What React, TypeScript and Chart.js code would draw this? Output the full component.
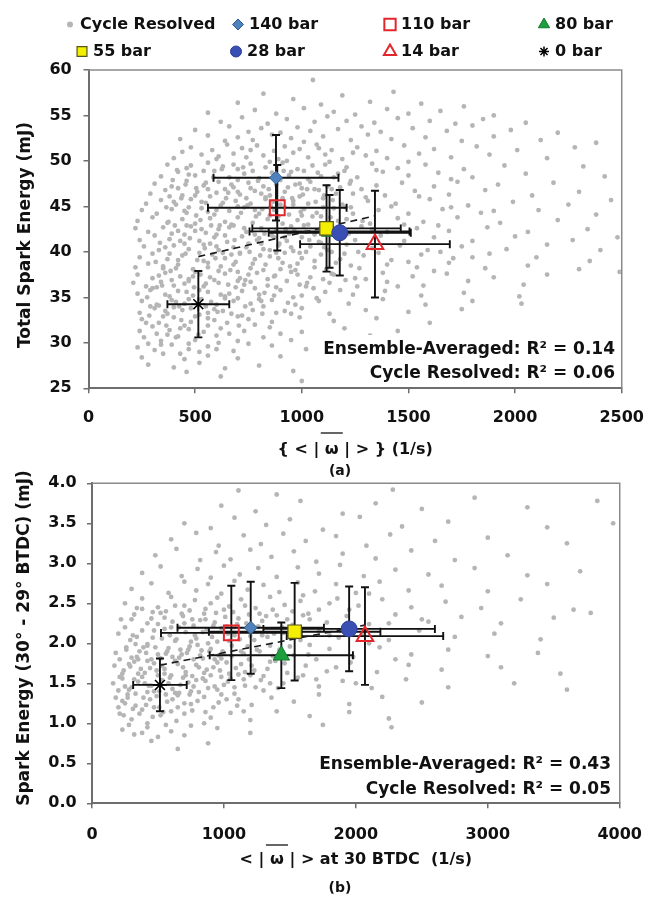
import React, { useEffect, useRef } from 'react';
import { Chart, registerables } from 'chart.js';
import { drawPoint } from 'chart.js/helpers';

Chart.register(...registerables);

const FONT = '"DejaVu Sans", "Liberation Sans", Arial, sans-serif';
const AXIS = '#6e6e6e';

// ---------- series names ----------
const CYCLE_LABEL = 'Cycle Resolved';
const SERIES = ['140 bar', '110 bar', '80 bar', '55 bar', '28 bar', '14 bar', '0 bar'];

// ---------- panel (a) ----------
const aXTicks = [0, 500, 1000, 1500, 2000, 2500];
const aYTicks = [25, 30, 35, 40, 45, 50, 55, 60];
const aX = [879, 885, 1130, 1116, 1178, 1343, 515];
const aY = [48.15, 44.85, 42.25, 42.58, 42.1, 40.85, 34.25];
const aXErr = [293, 325, 375, 348, 333, 351, 145];
const aYErr = [4.7, 4.7, 4.0, 4.75, 4.7, 5.87, 3.65];
const aNotes = ['Ensemble-Averaged: R\u00b2 = 0.14', 'Cycle Resolved: R\u00b2 = 0.06'];

const cycleA: [number, number][] = [
  [1052, 58.9], [820, 57.4], [1190, 57.2], [1430, 57.6],
  [700, 56.4], [960, 56.8], [1090, 56.2], [1320, 56.5], [1560, 56.3], [1760, 56.0],
  [560, 55.3], [780, 55.6], [880, 55.2], [1010, 55.8], [1150, 55.4], [1250, 55.1], [1400, 55.7], [1500, 55.2], [1650, 55.5], [1900, 55.0],
  [620, 54.3], [720, 54.8], [840, 54.1], [930, 54.6], [1060, 54.3], [1120, 54.9], [1210, 54.4], [1340, 54.2], [1450, 54.7], [1600, 54.4], [1720, 54.1], [1850, 54.6], [2050, 54.2],
  [500, 53.4], [660, 53.8], [750, 53.2], [810, 53.6], [900, 53.1], [980, 53.7], [1040, 53.3], [1170, 53.5], [1280, 53.8], [1370, 53.2], [1520, 53.6], [1680, 53.3], [1800, 53.9], [1980, 53.4], [2200, 53.1],
  [430, 52.4], [560, 52.8], [640, 52.2], [700, 52.6], [770, 52.3], [860, 52.9], [950, 52.5], [1010, 52.1], [1100, 52.7], [1230, 52.3], [1310, 52.9], [1420, 52.4], [1580, 52.6], [1750, 52.2], [1900, 52.7], [2120, 52.3], [2380, 52.0],
  [480, 51.5], [580, 51.2], [650, 51.8], [720, 51.4], [790, 51.7], [870, 51.1], [920, 51.6], [990, 51.3], [1070, 51.8], [1140, 51.2], [1260, 51.5], [1350, 51.1], [1480, 51.7], [1620, 51.3], [1820, 51.6], [2010, 51.2], [2280, 51.5],
  [400, 50.3], [530, 50.7], [600, 50.2], [680, 50.8], [740, 50.4], [820, 50.6], [890, 50.2], [960, 50.9], [1030, 50.4], [1110, 50.7], [1190, 50.2], [1300, 50.6], [1400, 50.3], [1550, 50.8], [1700, 50.4], [1880, 50.7], [2150, 50.3],
  [370, 49.6], [460, 49.2], [560, 49.8], [630, 49.4], [700, 49.1], [760, 49.7], [830, 49.3], [910, 49.8], [980, 49.1], [1050, 49.5], [1130, 49.9], [1210, 49.3], [1330, 49.7], [1450, 49.2], [1580, 49.6], [1760, 49.1], [1950, 49.5], [2320, 49.4],
  [340, 48.3], [420, 48.8], [500, 48.4], [590, 48.9], [660, 48.2], [730, 48.6], [800, 48.1], [860, 48.7], [940, 48.4], [1010, 48.9], [1090, 48.3], [1170, 48.6], [1260, 48.2], [1380, 48.8], [1500, 48.4], [1640, 48.7], [1800, 48.2], [2050, 48.6], [2420, 48.3],
  [310, 47.5], [390, 47.2], [460, 47.8], [540, 47.3], [610, 47.7], [680, 47.1], [750, 47.6], [820, 47.2], [900, 47.9], [970, 47.4], [1040, 47.7], [1120, 47.2], [1230, 47.8], [1350, 47.3], [1470, 47.6], [1620, 47.2], [1730, 47.7], [1920, 47.4], [2180, 47.6],
  [290, 46.4], [360, 46.8], [440, 46.2], [510, 46.6], [570, 46.1], [640, 46.9], [710, 46.3], [780, 46.7], [850, 46.2], [920, 46.6], [990, 46.1], [1080, 46.8], [1160, 46.4], [1280, 46.9], [1390, 46.2], [1530, 46.7], [1690, 46.3], [1860, 46.8], [2080, 46.2], [2300, 46.6],
  [270, 45.3], [340, 45.7], [410, 45.2], [480, 45.8], [550, 45.4], [620, 45.1], [690, 45.6], [760, 45.3], [830, 45.8], [900, 45.2], [960, 45.6], [1030, 45.3], [1100, 45.9], [1190, 45.2], [1310, 45.6], [1440, 45.3], [1600, 45.8], [1780, 45.1], [1990, 45.5], [2250, 45.2], [2450, 45.7],
  [250, 44.6], [320, 44.2], [390, 44.7], [460, 44.3], [530, 44.8], [590, 44.1], [660, 44.5], [730, 44.9], [800, 44.2], [870, 44.6], [940, 44.1], [1010, 44.7], [1070, 44.3], [1150, 44.8], [1240, 44.2], [1360, 44.6], [1500, 44.2], [1660, 44.7], [1840, 44.3], [2110, 44.6], [2380, 44.1],
  [230, 43.4], [300, 43.8], [370, 43.2], [440, 43.6], [500, 43.1], [570, 43.7], [640, 43.3], [700, 43.8], [770, 43.2], [840, 43.6], [910, 43.1], [980, 43.5], [1050, 43.9], [1130, 43.2], [1210, 43.6], [1320, 43.1], [1450, 43.7], [1570, 43.3], [1730, 43.8], [1930, 43.2], [2200, 43.5],
  [220, 42.6], [280, 42.2], [350, 42.7], [420, 42.3], [480, 42.8], [550, 42.1], [610, 42.5], [680, 42.9], [740, 42.2], [810, 42.6], [880, 42.3], [950, 42.8], [1020, 42.2], [1090, 42.7], [1180, 42.4], [1280, 42.8], [1400, 42.2], [1540, 42.6], [1690, 42.3], [1870, 42.7], [2060, 42.2], [2340, 42.5],
  [240, 41.3], [310, 41.8], [380, 41.4], [450, 41.9], [520, 41.2], [590, 41.6], [650, 41.1], [720, 41.7], [790, 41.3], [860, 41.8], [930, 41.2], [1000, 41.6], [1080, 41.1], [1160, 41.7], [1250, 41.3], [1370, 41.8], [1480, 41.2], [1620, 41.6], [1800, 41.2], [2000, 41.7], [2270, 41.3], [2480, 41.6],
  [260, 40.6], [330, 40.2], [400, 40.7], [470, 40.3], [540, 40.8], [610, 40.2], [680, 40.5], [750, 40.9], [820, 40.3], [890, 40.7], [960, 40.1], [1040, 40.6], [1120, 40.2], [1210, 40.8], [1330, 40.4], [1460, 40.7], [1590, 40.2], [1750, 40.6], [1960, 40.3], [2150, 40.8], [2400, 40.2],
  [240, 39.4], [300, 39.8], [370, 39.2], [440, 39.6], [510, 39.1], [580, 39.7], [640, 39.3], [710, 39.8], [780, 39.2], [850, 39.5], [920, 39.9], [1000, 39.3], [1090, 39.7], [1180, 39.2], [1290, 39.6], [1420, 39.1], [1560, 39.7], [1710, 39.3], [1880, 39.8], [2100, 39.4], [2350, 39.0],
  [220, 38.3], [280, 38.7], [350, 38.2], [420, 38.6], [490, 38.1], [560, 38.8], [620, 38.4], [690, 38.9], [760, 38.2], [830, 38.6], [900, 38.1], [980, 38.7], [1060, 38.3], [1160, 38.8], [1270, 38.2], [1400, 38.6], [1540, 38.3], [1690, 38.8], [1860, 38.2], [2060, 38.5], [2300, 38.1], [2490, 37.8],
  [230, 37.5], [300, 37.1], [360, 37.7], [430, 37.3], [500, 37.8], [570, 37.2], [640, 37.6], [710, 37.1], [790, 37.7], [870, 37.3], [950, 37.8], [1040, 37.2], [1140, 37.6], [1250, 37.1], [1380, 37.7], [1520, 37.3], [1680, 37.6], [1900, 37.2], [2150, 37.5],
  [210, 36.6], [270, 36.2], [340, 36.7], [400, 36.3], [470, 36.8], [540, 36.2], [610, 36.6], [690, 36.1], [760, 36.7], [840, 36.3], [930, 36.8], [1020, 36.2], [1130, 36.6], [1260, 36.2], [1400, 36.7], [1570, 36.3], [1780, 36.8], [2040, 36.4],
  [230, 35.4], [290, 35.8], [360, 35.3], [420, 35.7], [490, 35.2], [560, 35.6], [640, 35.1], [720, 35.7], [800, 35.3], [900, 35.8], [1000, 35.2], [1110, 35.6], [1240, 35.3], [1390, 35.7], [1560, 35.2], [1760, 35.5], [2020, 35.1],
  [250, 34.6], [320, 34.2], [390, 34.7], [450, 34.3], [530, 34.8], [600, 34.2], [680, 34.6], [760, 34.3], [860, 34.7], [970, 34.2], [1080, 34.6], [1220, 34.3], [1380, 34.8], [1580, 34.2], [1800, 34.6], [2030, 34.3],
  [240, 33.3], [310, 33.8], [370, 33.2], [440, 33.6], [520, 33.1], [590, 33.7], [670, 33.2], [770, 33.6], [880, 33.3], [1000, 33.8], [1130, 33.2], [1300, 33.6], [1500, 33.4], [1750, 33.7],
  [250, 32.6], [330, 32.2], [400, 32.8], [480, 32.3], [560, 32.7], [650, 32.2], [750, 32.6], [860, 32.3], [990, 32.8], [1150, 32.4], [1350, 32.7], [1600, 32.2],
  [240, 31.3], [300, 31.8], [380, 31.4], [450, 31.9], [540, 31.2], [620, 31.6], [730, 31.3], [850, 31.7], [1000, 31.2], [1200, 31.6], [1450, 31.3],
  [260, 30.6], [340, 30.2], [420, 30.7], [500, 30.3], [600, 30.8], [700, 30.2], [820, 30.6], [950, 30.3], [1150, 30.5], [1320, 30.8],
  [230, 29.5], [310, 29.2], [390, 29.8], [470, 29.3], [560, 29.6], [680, 29.1], [860, 29.7], [1020, 29.3],
  [250, 28.4], [350, 28.8], [450, 28.2], [560, 28.6], [700, 28.3], [900, 28.5],
  [280, 27.6], [400, 27.3], [520, 27.8], [640, 27.2], [800, 27.5],
  [460, 26.8], [620, 26.3], [960, 26.9], [1000, 25.8],
  [415, 49.0], [505, 47.0], [585, 48.2], [655, 46.5], [725, 49.3], [795, 47.8], [865, 45.5], [935, 47.1], [1005, 46.3], [1075, 48.7], [1145, 45.7], [1225, 47.5],
  [365, 44.9], [435, 45.9], [505, 44.0], [575, 42.9], [645, 45.9], [715, 44.3], [785, 43.9], [855, 45.0], [925, 42.5], [995, 44.4], [1065, 45.5], [1135, 43.8], [1205, 44.9], [1285, 43.4],
  [335, 41.0], [405, 42.9], [475, 41.5], [545, 40.4], [615, 42.9], [685, 41.3], [755, 40.0], [825, 42.0], [895, 40.9], [965, 42.4], [1035, 41.3], [1105, 40.5], [1185, 41.9], [1265, 40.0],
  [315, 38.9], [385, 37.9], [455, 39.8], [525, 37.5], [595, 39.3], [665, 38.0], [735, 36.9], [805, 39.6], [875, 37.4], [945, 38.4], [1025, 36.6], [1115, 38.1], [1205, 36.9],
  [275, 35.0], [345, 36.3], [425, 34.0], [495, 36.1], [575, 34.5], [655, 36.4], [735, 34.0], [825, 35.5], [935, 34.4], [1055, 36.0],
  [285, 33.0], [365, 31.9], [435, 32.5], [515, 30.9], [605, 33.4], [705, 31.9], [815, 33.2],
  [340, 29.8], [430, 28.8], [520, 29.0], [610, 30.0],
  [395, 47.9], [470, 48.5], [550, 47.6], [625, 49.1], [700, 47.9], [770, 48.9], [845, 46.9], [915, 48.9], [990, 47.5], [1060, 46.9], [1200, 48.9], [1110, 49.6],
  [380, 46.1], [455, 47.4], [530, 45.5], [600, 46.5], [670, 47.4], [740, 45.9], [810, 46.4], [880, 47.4], [955, 45.9], [1025, 46.9], [1105, 46.2], [1180, 47.1],
  [375, 43.3], [450, 44.5], [525, 43.5], [600, 44.6], [670, 43.0], [745, 45.1], [815, 44.7], [890, 43.9], [960, 45.2], [1030, 43.0], [1100, 44.9], [1170, 43.4],
  [360, 40.5], [430, 41.2], [500, 42.3], [570, 40.9], [640, 41.8], [710, 39.9], [780, 41.9], [850, 40.2], [920, 41.6], [990, 39.9], [1060, 41.9], [1140, 40.0],
  [350, 38.4], [420, 39.1], [490, 37.3], [560, 38.3], [630, 39.9], [700, 37.8], [770, 38.7], [840, 37.0], [910, 38.8], [980, 37.5], [1060, 39.0], [1150, 37.5],
  [300, 36.0], [380, 35.1], [450, 36.5], [520, 35.8], [590, 36.9], [660, 35.4], [730, 36.4], [800, 34.8], [880, 36.1], [960, 35.0], [1070, 34.9],
  [290, 34.0], [360, 33.5], [410, 34.5], [480, 33.8], [550, 34.0], [630, 33.5], [700, 34.9], [820, 34.0], [920, 33.5],
  [320, 31.0], [410, 30.6], [470, 31.5], [560, 31.9], [660, 31.0], [780, 32.0], [900, 31.0],
  [280, 29.9], [370, 30.9], [470, 29.9], [600, 29.3], [750, 29.9],
  [440, 51.0], [610, 50.5], [760, 51.2], [930, 50.0], [1080, 51.4], [1240, 50.9],
  [480, 49.5], [540, 48.9], [680, 49.6], [850, 49.9], [950, 48.8], [1030, 48.0], [1150, 48.2],
  [420, 47.0], [500, 46.2], [560, 46.9], [700, 46.6], [760, 47.0], [830, 46.0], [910, 45.9], [1000, 47.0], [1140, 46.9], [1240, 46.4],
  [400, 45.5], [470, 44.9], [560, 44.4], [630, 45.4], [700, 45.0], [780, 44.6], [850, 44.0], [920, 44.9], [1000, 44.0], [1090, 43.9], [1230, 44.9],
  [390, 42.0], [460, 42.9], [530, 42.5], [600, 41.9], [660, 42.7], [730, 42.6], [800, 41.5], [870, 41.6], [940, 42.0], [1010, 42.9], [1070, 42.4], [1220, 42.0],
  [380, 39.8], [450, 40.9], [520, 39.9], [600, 40.6], [670, 39.7], [740, 40.5], [810, 40.9], [880, 39.9], [950, 40.5], [1020, 40.0], [1090, 41.0], [1200, 39.8],
  [330, 37.4], [410, 38.2], [470, 37.0], [540, 39.0], [610, 37.9], [680, 38.6], [750, 37.5], [820, 38.0], [890, 39.3], [970, 38.0], [1100, 37.0], [1230, 38.5],
  [320, 36.1], [390, 36.9], [460, 35.6], [550, 36.5], [620, 35.3], [700, 36.8], [780, 36.0], [870, 35.2], [990, 36.4], [1180, 35.8],
  [330, 34.1], [400, 33.9], [470, 34.8], [560, 33.3], [640, 34.9], [720, 33.0], [810, 34.6], [950, 33.2],
  [270, 32.2], [350, 32.9], [430, 31.6], [500, 32.9], [590, 32.5], [700, 32.9],
  [1300, 46.0], [1420, 45.0], [1550, 46.1], [1700, 44.9], [1330, 42.5], [1480, 43.0], [1640, 42.9], [1360, 39.9], [1500, 38.9], [1650, 40.0],
  [1300, 37.0], [1450, 36.2], [1620, 37.9], [1800, 39.4], [1900, 44.5], [1350, 49.0], [1500, 49.9], [1700, 48.0],
];

// ---------- panel (b) ----------
const bXTicks = [0, 1000, 2000, 3000, 4000];
const bYTicks = [0, 0.5, 1, 1.5, 2, 2.5, 3, 3.5, 4];
const bX = [1203, 1056, 1435, 1536, 1949, 2069, 515];
const bY = [2.195, 2.13, 1.85, 2.145, 2.18, 2.09, 1.48];
const bXErr = [555, 533, 543, 650, 650, 593, 203];
const bYErr = [0.575, 0.59, 0.41, 0.61, 0.53, 0.61, 0.33];
const bNotes = ['Ensemble-Averaged: R\u00b2 = 0.43', 'Cycle Resolved: R\u00b2 = 0.05'];

const cycleB: [number, number][] = [
  [1110, 3.91], [1400, 3.86], [2280, 3.92], [2900, 3.82], [3830, 3.78],
  [980, 3.72], [1240, 3.65], [1580, 3.78], [1900, 3.62], [2150, 3.75], [2500, 3.68], [3300, 3.7],
  [700, 3.5], [900, 3.44], [1080, 3.57], [1320, 3.48], [1500, 3.55], [1750, 3.42], [2030, 3.58], [2350, 3.46], [2700, 3.52], [3450, 3.45], [3950, 3.5],
  [600, 3.3], [790, 3.38], [960, 3.22], [1150, 3.35], [1280, 3.24], [1450, 3.37], [1620, 3.28], [1850, 3.34], [2080, 3.22], [2260, 3.36], [2600, 3.28], [3000, 3.32], [3600, 3.25],
  [480, 3.1], [640, 3.18], [820, 3.04], [940, 3.14], [1050, 3.05], [1200, 3.17], [1360, 3.08], [1530, 3.15], [1700, 3.02], [1900, 3.12], [2150, 3.06], [2420, 3.16], [2750, 3.04], [3150, 3.1],
  [380, 2.88], [520, 2.96], [680, 2.84], [800, 2.93], [900, 2.82], [1000, 2.97], [1120, 2.86], [1260, 2.94], [1400, 2.83], [1560, 2.95], [1720, 2.87], [1880, 2.98], [2060, 2.84], [2300, 2.92], [2550, 2.86], [2900, 2.94], [3300, 2.85], [3700, 2.9],
  [300, 2.68], [450, 2.75], [580, 2.63], [700, 2.77], [790, 2.66], [880, 2.74], [980, 2.62], [1080, 2.78], [1180, 2.67], [1300, 2.73], [1420, 2.64], [1560, 2.76], [1690, 2.65], [1850, 2.74], [2000, 2.63], [2180, 2.77], [2400, 2.66], [2650, 2.72], [3000, 2.65], [3450, 2.74],
  [250, 2.5], [380, 2.56], [500, 2.45], [600, 2.58], [700, 2.47], [780, 2.54], [860, 2.43], [950, 2.57], [1040, 2.46], [1130, 2.55], [1240, 2.44], [1350, 2.58], [1460, 2.48], [1580, 2.53], [1720, 2.42], [1860, 2.56], [2020, 2.47], [2200, 2.55], [2420, 2.45], [2680, 2.52], [2950, 2.44], [3250, 2.55], [3650, 2.42],
  [220, 2.3], [320, 2.36], [420, 2.25], [520, 2.38], [610, 2.27], [690, 2.34], [770, 2.22], [850, 2.37], [930, 2.26], [1010, 2.33], [1100, 2.24], [1190, 2.36], [1290, 2.28], [1400, 2.35], [1520, 2.23], [1640, 2.37], [1780, 2.26], [1930, 2.34], [2100, 2.24], [2300, 2.36], [2550, 2.27], [2800, 2.33], [3100, 2.25], [3500, 2.32], [3780, 2.38],
  [200, 2.12], [290, 2.04], [380, 2.16], [460, 2.07], [550, 2.18], [630, 2.03], [710, 2.14], [790, 2.06], [870, 2.17], [950, 2.02], [1030, 2.12], [1120, 2.05], [1220, 2.16], [1330, 2.08], [1450, 2.13], [1580, 2.04], [1720, 2.15], [1870, 2.07], [2050, 2.12], [2250, 2.04], [2480, 2.16], [2750, 2.08], [3050, 2.12], [3400, 2.05],
  [180, 1.88], [260, 1.95], [340, 1.83], [420, 1.97], [500, 1.86], [580, 1.94], [660, 1.82], [740, 1.96], [820, 1.85], [900, 1.93], [980, 1.81], [1060, 1.97], [1150, 1.87], [1250, 1.92], [1370, 1.84], [1500, 1.96], [1640, 1.86], [1800, 1.93], [1980, 1.83], [2180, 1.95], [2420, 1.86], [2700, 1.92], [3000, 1.84], [3380, 1.88],
  [170, 1.72], [240, 1.66], [320, 1.77], [400, 1.63], [470, 1.75], [550, 1.68], [630, 1.78], [710, 1.64], [790, 1.73], [870, 1.67], [950, 1.76], [1040, 1.62], [1130, 1.74], [1230, 1.66], [1350, 1.77], [1480, 1.63], [1620, 1.72], [1780, 1.65], [1960, 1.76], [2160, 1.64], [2400, 1.73], [2650, 1.67], [3100, 1.7], [3550, 1.62],
  [160, 1.5], [230, 1.56], [300, 1.45], [380, 1.58], [450, 1.47], [530, 1.54], [610, 1.43], [690, 1.57], [770, 1.46], [860, 1.53], [950, 1.42], [1050, 1.56], [1160, 1.47], [1280, 1.54], [1410, 1.44], [1560, 1.57], [1720, 1.46], [1900, 1.53], [2120, 1.44], [2380, 1.55], [2700, 1.45], [3200, 1.5], [3600, 1.42],
  [180, 1.32], [250, 1.25], [330, 1.37], [410, 1.23], [490, 1.34], [570, 1.27], [660, 1.38], [750, 1.24], [850, 1.33], [960, 1.26], [1080, 1.37], [1210, 1.23], [1360, 1.32], [1530, 1.27], [1720, 1.36], [1950, 1.24], [2200, 1.33], [2500, 1.26],
  [210, 1.12], [300, 1.05], [380, 1.17], [460, 1.08], [540, 1.14], [640, 1.03], [760, 1.16], [900, 1.07], [1050, 1.13], [1200, 1.04], [1400, 1.15], [1650, 1.09], [1950, 1.14], [2250, 1.06],
  [230, 0.92], [320, 0.86], [420, 0.95], [500, 0.83], [600, 0.9], [750, 0.97], [950, 0.94], [1200, 0.88], [1750, 0.98], [2270, 0.95],
  [450, 0.78], [650, 0.68], [880, 0.75],
  [340, 2.44], [450, 2.31], [560, 2.4], [660, 2.2], [740, 2.41], [820, 2.29], [900, 2.5], [980, 2.19], [1070, 2.39], [1160, 2.47], [1260, 2.21], [1370, 2.42], [1480, 2.3],
  [250, 2.2], [340, 2.08], [420, 1.99], [500, 2.24], [590, 2.1], [670, 1.92], [750, 2.02], [830, 1.91], [910, 2.08], [990, 1.9], [1080, 2.2], [1180, 1.96], [1290, 2.1], [1420, 1.92], [1550, 2.2],
  [210, 1.8], [290, 1.71], [360, 1.9], [440, 1.69], [520, 1.81], [600, 1.6], [680, 1.86], [760, 1.59], [840, 1.81], [920, 1.7], [1000, 1.87], [1090, 1.69], [1190, 1.8], [1300, 1.59], [1420, 1.85],
  [200, 1.41], [270, 1.36], [350, 1.52], [420, 1.39], [500, 1.6], [580, 1.5], [650, 1.35], [730, 1.51], [810, 1.39], [900, 1.6], [1000, 1.48], [1110, 1.3], [1240, 1.45],
  [240, 1.1], [330, 1.22], [420, 1.0], [510, 1.2], [600, 1.15], [700, 1.25],
  [300, 2.3], [380, 2.43], [470, 2.16], [550, 2.32], [630, 2.47], [700, 2.25], [780, 2.1], [860, 2.3], [940, 2.38], [1020, 2.21], [1110, 2.31], [1200, 2.09], [1320, 2.34], [1440, 2.2], [1600, 2.35],
  [260, 1.92], [330, 1.99], [410, 1.88], [480, 1.95], [560, 1.87], [640, 2.05], [720, 1.88], [800, 1.98], [880, 2.0], [960, 1.85], [1040, 2.03], [1130, 1.9], [1230, 2.04], [1350, 1.97], [1500, 2.07], [1650, 1.98],
  [230, 1.62], [300, 1.82], [370, 1.68], [450, 1.8], [530, 1.72], [610, 1.83], [690, 1.7], [770, 1.8], [850, 1.63], [930, 1.8], [1020, 1.76], [1110, 1.61], [1210, 1.72], [1330, 1.68], [1460, 1.75], [1600, 1.6],
  [210, 1.58], [280, 1.42], [350, 1.62], [430, 1.47], [510, 1.4], [590, 1.57], [670, 1.48], [750, 1.4], [840, 1.56], [930, 1.46], [1030, 1.52], [1150, 1.55], [1300, 1.41], [1450, 1.5],
  [200, 1.2], [270, 1.32], [360, 1.12], [440, 1.3], [520, 1.1], [610, 1.3], [700, 1.12], [800, 1.28], [920, 1.2], [1020, 1.3], [1150, 1.15],
  [280, 0.98], [380, 0.88], [560, 0.98], [700, 0.85], [850, 1.0],
  [310, 2.1], [390, 1.95], [460, 2.39], [530, 2.06], [600, 2.2], [680, 2.37], [760, 2.3], [840, 2.14], [920, 2.22], [1000, 2.42], [1080, 2.1], [1170, 2.25], [1270, 2.37], [1380, 2.12], [1520, 2.4],
  [280, 1.74], [350, 1.8], [420, 1.78], [490, 1.66], [570, 1.9], [650, 1.74], [730, 1.92], [810, 1.7], [890, 1.9], [970, 1.66], [1060, 1.84], [1160, 1.64], [1270, 1.9], [1390, 1.78], [1530, 1.85], [1700, 1.8],
  [250, 1.46], [320, 1.55], [400, 1.5], [470, 1.4], [550, 1.62], [630, 1.38], [710, 1.6], [790, 1.54], [880, 1.44], [980, 1.58], [1080, 1.45], [1200, 1.6], [1350, 1.5],
  [230, 1.28], [310, 1.18], [390, 1.32], [470, 1.2], [560, 1.36], [650, 1.2], [740, 1.36], [860, 1.14], [980, 1.36], [1100, 1.22],
  [1650, 2.3], [1800, 2.1], [1950, 2.42], [2100, 2.0], [2250, 2.25], [1700, 1.55], [1850, 1.7], [2000, 1.5], [1600, 2.6], [1800, 2.5], [2100, 2.62], [2300, 1.8], [2500, 2.3],
];

// ---------- marker styles (per series) ----------
const MARKERS = [
  { style: 'rectRot', r: 6.5, lr: 5.5, fill: '#4f81bd', stroke: '#2e5c94', bw: 1, order: 7 },
  { style: 'rect', r: 10.5, lr: 8, fill: 'rgba(0,0,0,0)', stroke: '#e3262b', bw: 2, order: 6 },
  { style: 'triangle', r: 9.5, lr: 6.5, fill: '#1f9e40', stroke: '#127a2e', bw: 1, order: 9 },
  { style: 'rect', r: 9.5, lr: 7, fill: '#f4ee00', stroke: '#55551e', bw: 1.2, order: 8 },
  { style: 'circle', r: 8, lr: 5.5, fill: '#3a4fb4', stroke: '#2d3f98', bw: 1, order: 5 },
  { style: 'triangle', r: 9.6, lr: 7, fill: 'rgba(0,0,0,0)', stroke: '#e3262b', bw: 2, order: 4 },
  { style: 'star', r: 7, lr: 5, fill: '#000', stroke: '#000', bw: 1.5, order: 3 },
];
const CLOUD_COLOR = '#b5b5b5';

// legend layout: [series index (-1 = cycle), marker x, row]
const LEGEND_LAYOUT: [number, number, number][] = [
  [-1, 70, 0], [0, 238, 0], [1, 390, 0], [2, 544, 0],
  [3, 82, 1], [4, 236, 1], [5, 390, 1], [6, 544, 1],
];
const LEGEND_ROWS = [24.5, 51.5];

function linearFit(xs: number[], ys: number[]) {
  const n = xs.length;
  const mx = xs.reduce((s, v) => s + v, 0) / n;
  const my = ys.reduce((s, v) => s + v, 0) / n;
  let sxy = 0, sxx = 0;
  for (let i = 0; i < n; i++) { sxy += (xs[i] - mx) * (ys[i] - my); sxx += (xs[i] - mx) ** 2; }
  const b = sxy / sxx;
  return { a: my - b * mx, b };
}

type Panel = {
  cloud: [number, number][]; xs: number[]; ys: number[]; xerr: number[]; yerr: number[];
  xTicks: number[]; yTicks: number[]; yDec: number;
  padTop: number; padRight: number; yWidth: number; xHeight: number; yPad: number; xPad: number;
  yTitle: string; yTitleX: number; yTitleY: number;
  xPre: string; xOmega: string; xPost: string; xTitleY: number; overOff: number;
  tag: string; tagX: number; tagY: number;
  notes: string[]; noteRight: number; noteY: number[]; boxLeft: number; boxTop: number; boxBottom: number;
  legend: boolean;
};

const panelA: Panel = {
  cloud: cycleA, xs: aX, ys: aY, xerr: aXErr, yerr: aYErr,
  xTicks: aXTicks, yTicks: aYTicks, yDec: 0,
  padTop: 70, padRight: 37, yWidth: 88.5, xHeight: 91.7, yPad: 11.8, xPad: 15,
  yTitle: 'Total Spark Energy (mJ)', yTitleX: 26, yTitleY: 235,
  xPre: '{ < | ', xOmega: '\u03c9', xPost: ' | > } (1/s)', xTitleY: 450, overOff: 17,
  tag: '(a)', tagX: 340, tagY: 471,
  notes: aNotes, noteRight: 615, noteY: [349.5, 373.5], boxLeft: 322, boxTop: 335, boxBottom: 386,
  legend: true,
};

const panelB: Panel = {
  cloud: cycleB, xs: bX, ys: bY, xerr: bXErr, yerr: bYErr,
  xTicks: bXTicks, yTicks: bYTicks, yDec: 1,
  padTop: 23.3, padRight: 34, yWidth: 92, xHeight: 95.7, yPad: 10.3, xPad: 17,
  yTitle: 'Spark Energy (30\u00b0 - 29\u00b0 BTDC) (mJ)', yTitleX: 25, yTitleY: 178,
  xPre: '< | ', xOmega: '\u03c9', xPost: ' | > at 30 BTDC  (1/s)', xTitleY: 400, overOff: 15,
  tag: '(b)', tagX: 340, tagY: 428,
  notes: bNotes, noteRight: 611, noteY: [305, 329.3], boxLeft: 318, boxTop: 292, boxBottom: 341.5,
  legend: false,
};

function buildChart(canvas: HTMLCanvasElement, p: Panel) {
  const datasets: any[] = [];
  datasets.push({
    label: CYCLE_LABEL,
    data: p.cloud.map(([x, y]) => ({ x, y })),
    pointRadius: 2.4, pointHoverRadius: 2.4, pointBackgroundColor: CLOUD_COLOR, pointBorderWidth: 0,
    order: 100,
  });
  const fit = linearFit(p.xs, p.ys);
  const x0 = Math.min(...p.xs), x1 = Math.max(...p.xs);
  datasets.push({
    label: 'trend',
    data: [{ x: x0, y: fit.a + fit.b * x0 }, { x: x1, y: fit.a + fit.b * x1 }],
    showLine: true, borderColor: '#1a1a1a', borderWidth: 1.6, borderDash: [7, 5], pointRadius: 0,
    order: 50,
  });
  SERIES.forEach((name, i) => {
    const m = MARKERS[i];
    datasets.push({
      label: name,
      data: [{ x: p.xs[i], y: p.ys[i] }],
      pointStyle: m.style, pointRadius: m.r, pointHoverRadius: m.r,
      pointBackgroundColor: m.fill, pointBorderColor: m.stroke, pointBorderWidth: m.bw,
      order: m.order,
    });
  });

  const tickFont = { family: FONT, size: 16, weight: 'bold' as const };

  const decor = {
    id: 'decor',
    afterDatasetDraw(chart: any, args: any) {
      if (args.index !== 0) return;
      const { ctx, scales } = chart;
      const sx = scales.x, sy = scales.y;
      const cap = 4;
      ctx.save();
      ctx.strokeStyle = '#111';
      ctx.lineWidth = 1.9;
      p.xs.forEach((xv, i) => {
        const yv = p.ys[i];
        const px = sx.getPixelForValue(xv), py = sy.getPixelForValue(yv);
        const xl = sx.getPixelForValue(xv - p.xerr[i]), xr = sx.getPixelForValue(xv + p.xerr[i]);
        const yt = sy.getPixelForValue(yv + p.yerr[i]), yb = sy.getPixelForValue(yv - p.yerr[i]);
        ctx.beginPath();
        ctx.moveTo(xl, py); ctx.lineTo(xr, py);
        ctx.moveTo(xl, py - cap); ctx.lineTo(xl, py + cap);
        ctx.moveTo(xr, py - cap); ctx.lineTo(xr, py + cap);
        ctx.moveTo(px, yt); ctx.lineTo(px, yb);
        ctx.moveTo(px - cap, yt); ctx.lineTo(px + cap, yt);
        ctx.moveTo(px - cap, yb); ctx.lineTo(px + cap, yb);
        ctx.stroke();
      });
      ctx.restore();
    },
    afterDraw(chart: any) {
      const { ctx, chartArea: ca } = chart;
      ctx.save();
      // plot frame (top & right)
      ctx.strokeStyle = '#8a8a8a';
      ctx.lineWidth = 1.5;
      ctx.beginPath();
      ctx.moveTo(ca.left, ca.top); ctx.lineTo(ca.right, ca.top); ctx.lineTo(ca.right, ca.bottom);
      ctx.stroke();

      // R^2 note box
      ctx.fillStyle = '#fff';
      ctx.fillRect(p.boxLeft, p.boxTop, ca.right - 1.5 - p.boxLeft, p.boxBottom - p.boxTop);
      ctx.fillStyle = '#111';
      ctx.font = `bold 17px ${FONT}`;
      ctx.textAlign = 'right';
      ctx.textBaseline = 'middle';
      p.notes.forEach((t, i) => ctx.fillText(t, p.noteRight, p.noteY[i]));

      // y title
      ctx.save();
      ctx.translate(p.yTitleX, p.yTitleY);
      ctx.rotate(-Math.PI / 2);
      ctx.textAlign = 'center';
      ctx.font = `bold 17px ${FONT}`;
      ctx.fillText(p.yTitle, 0, 0);
      ctx.restore();

      // x title with overline on omega
      ctx.font = `bold 16px ${FONT}`;
      ctx.textAlign = 'left';
      const full = p.xPre + p.xOmega + p.xPost;
      const w = ctx.measureText(full).width;
      const cx = (ca.left + ca.right) / 2;
      const left = cx - w / 2;
      ctx.fillText(full, left, p.xTitleY);
      const wp = ctx.measureText(p.xPre).width;
      const wo = ctx.measureText(p.xOmega).width;
      const oc = left + wp + wo / 2;
      ctx.strokeStyle = '#333';
      ctx.lineWidth = 1.5;
      ctx.beginPath();
      ctx.moveTo(oc - 11, p.xTitleY - p.overOff);
      ctx.lineTo(oc + 11, p.xTitleY - p.overOff);
      ctx.stroke();

      // panel tag
      ctx.font = `bold 14px ${FONT}`;
      ctx.textAlign = 'center';
      ctx.fillText(p.tag, p.tagX, p.tagY);

      // legend
      if (p.legend) {
        ctx.font = `bold 16px ${FONT}`;
        ctx.textAlign = 'left';
        LEGEND_LAYOUT.forEach(([si, mx, row]) => {
          const y = LEGEND_ROWS[row];
          if (si < 0) {
            ctx.fillStyle = CLOUD_COLOR;
            drawPoint(ctx, { pointStyle: 'circle', radius: 3, rotation: 0, borderWidth: 0 } as any, mx, y);
            ctx.fillStyle = '#111';
            ctx.fillText(CYCLE_LABEL, mx + 10, y);
          } else {
            const m = MARKERS[si];
            ctx.fillStyle = m.fill;
            ctx.strokeStyle = m.stroke;
            ctx.lineWidth = m.bw;
            drawPoint(ctx, { pointStyle: m.style, radius: m.lr, rotation: 0, borderWidth: m.bw } as any, mx, y);
            ctx.fillStyle = '#111';
            ctx.fillText(SERIES[si], mx + 11, y);
          }
        });
      }
      ctx.restore();
    },
  };

  return new Chart(canvas, {
    type: 'scatter',
    data: { datasets },
    options: {
      responsive: false,
      animation: false,
      devicePixelRatio: 1,
      events: [],
      layout: { padding: { top: p.padTop, right: p.padRight, left: 0, bottom: 0 } },
      plugins: { legend: { display: false }, tooltip: { enabled: false }, title: { display: false } },
      scales: {
        x: {
          type: 'linear',
          min: p.xTicks[0],
          max: p.xTicks[p.xTicks.length - 1],
          afterBuildTicks: (s: any) => { s.ticks = p.xTicks.map((v) => ({ value: v })); },
          afterFit: (s: any) => { s.height = p.xHeight; },
          ticks: { color: '#111', font: tickFont, padding: p.xPad, maxRotation: 0, autoSkip: false, callback: (v: any) => String(v) },
          grid: { drawOnChartArea: false, drawTicks: true, tickLength: 5, color: AXIS, lineWidth: 1.5 },
          border: { display: true, color: AXIS, width: 2 },
        },
        y: {
          type: 'linear',
          min: p.yTicks[0],
          max: p.yTicks[p.yTicks.length - 1],
          afterBuildTicks: (s: any) => { s.ticks = p.yTicks.map((v) => ({ value: v })); },
          afterFit: (s: any) => { s.width = p.yWidth; },
          ticks: { color: '#111', font: tickFont, padding: p.yPad, autoSkip: false, callback: (v: any) => Number(v).toFixed(p.yDec) },
          grid: { drawOnChartArea: false, drawTicks: true, tickLength: 5, color: AXIS, lineWidth: 1.5 },
          border: { display: true, color: AXIS, width: 2 },
        },
      },
    } as any,
    plugins: [decor],
  });
}

export default function App() {
  const refA = useRef<HTMLCanvasElement>(null);
  const refB = useRef<HTMLCanvasElement>(null);
  useEffect(() => {
    const a = buildChart(refA.current!, panelA);
    const b = buildChart(refB.current!, panelB);
    return () => { a.destroy(); b.destroy(); };
  }, []);
  return (
    <div style={{ position: 'absolute', left: 0, top: 0, width: 659, height: 899, background: '#fff', overflow: 'hidden' }}>
      <canvas ref={refA} width={659} height={480} style={{ position: 'absolute', left: 0, top: 0, width: 659, height: 480 }} />
      <canvas ref={refB} width={659} height={439} style={{ position: 'absolute', left: 0, top: 460, width: 659, height: 439 }} />
    </div>
  );
}
